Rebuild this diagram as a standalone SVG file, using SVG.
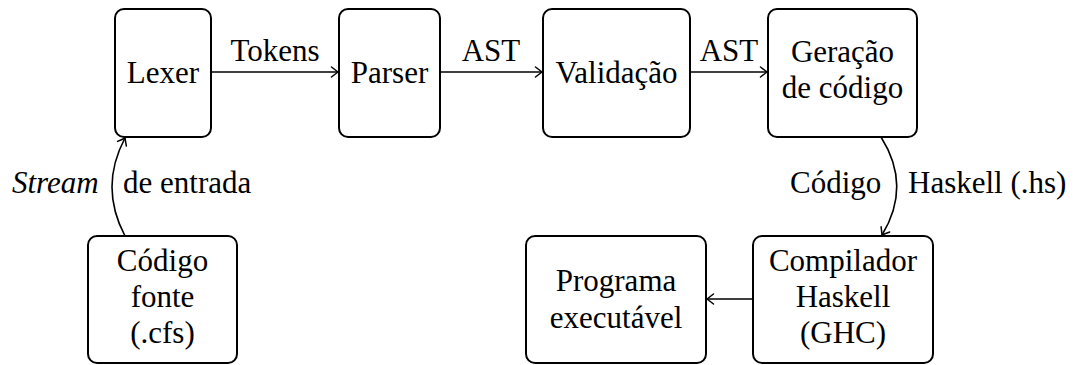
<svg xmlns="http://www.w3.org/2000/svg" width="1074" height="365" viewBox="0 0 1074 365">
<style>
.box{fill:#fff;stroke:#000;stroke-width:2}
.t{font-size:31px;fill:#000;text-anchor:middle}
.l{font-size:31px;fill:#000}
.c{fill:none;stroke:#000;stroke-width:1.6;marker-end:url(#ah)}
</style>
<defs>
<marker id="ah" viewBox="-8 -6 10 12" markerWidth="10" markerHeight="12" refX="0" refY="0" orient="auto" markerUnits="userSpaceOnUse">
<path d="M-6.5,-5 Q-2,-1.5 0,0 Q-2,1.5 -6.5,5" fill="none" stroke="#000" stroke-width="1.5" stroke-linecap="round"/>
</marker>
</defs>
<g font-family="Liberation Serif, Times New Roman, serif">
<g id="connectors">
<line class="c" x1="211" y1="72" x2="338" y2="72"/>
<line class="c" x1="440" y1="72" x2="542" y2="72"/>
<line class="c" x1="690" y1="72" x2="767" y2="72"/>
<path class="c" d="M125,236 Q99,187 125,138"/>
<path class="c" d="M881,137 Q912,186 882,235"/>
<line class="c" x1="753" y1="299" x2="707" y2="299"/>
<text class="t" x="275" y="61">Tokens</text>
<text class="t" x="491" y="61">AST</text>
<text class="t" x="729" y="61">AST</text>
<text class="l" x="12" y="193" font-style="italic">Stream</text>
<text class="l" x="123" y="193">de entrada</text>
<text class="l" x="790" y="193">Código</text>
<text class="l" x="908" y="193">Haskell (.hs)</text>
</g>
<g id="lexer"><rect class="box" x="115" y="9" width="96" height="128" rx="9"/><text class="t" x="163" y="83">Lexer</text></g>
<g id="parser"><rect class="box" x="339" y="9" width="101" height="128" rx="9"/><text class="t" x="389.5" y="83">Parser</text></g>
<g id="validacao"><rect class="box" x="543" y="9" width="147" height="128" rx="9"/><text class="t" x="616.5" y="83">Validação</text></g>
<g id="geracao"><rect class="box" x="768" y="9" width="149" height="128" rx="9"/><text class="t" x="842.5" y="62">Geração</text><text class="t" x="842.5" y="98">de código</text></g>
<g id="codigo-fonte"><rect class="box" x="88" y="236" width="149" height="127" rx="9"/><text class="t" x="162.5" y="271">Código</text><text class="t" x="162.5" y="307">fonte</text><text class="t" x="162.5" y="343">(.cfs)</text></g>
<g id="compilador"><rect class="box" x="753" y="236" width="180" height="127" rx="9"/><text class="t" x="843" y="271">Compilador</text><text class="t" x="843" y="307">Haskell</text><text class="t" x="843" y="343">(GHC)</text></g>
<g id="programa"><rect class="box" x="526" y="236" width="180" height="127" rx="9"/><text class="t" x="616" y="291">Programa</text><text class="t" x="616" y="328">executável</text></g>
</g>
</svg>
